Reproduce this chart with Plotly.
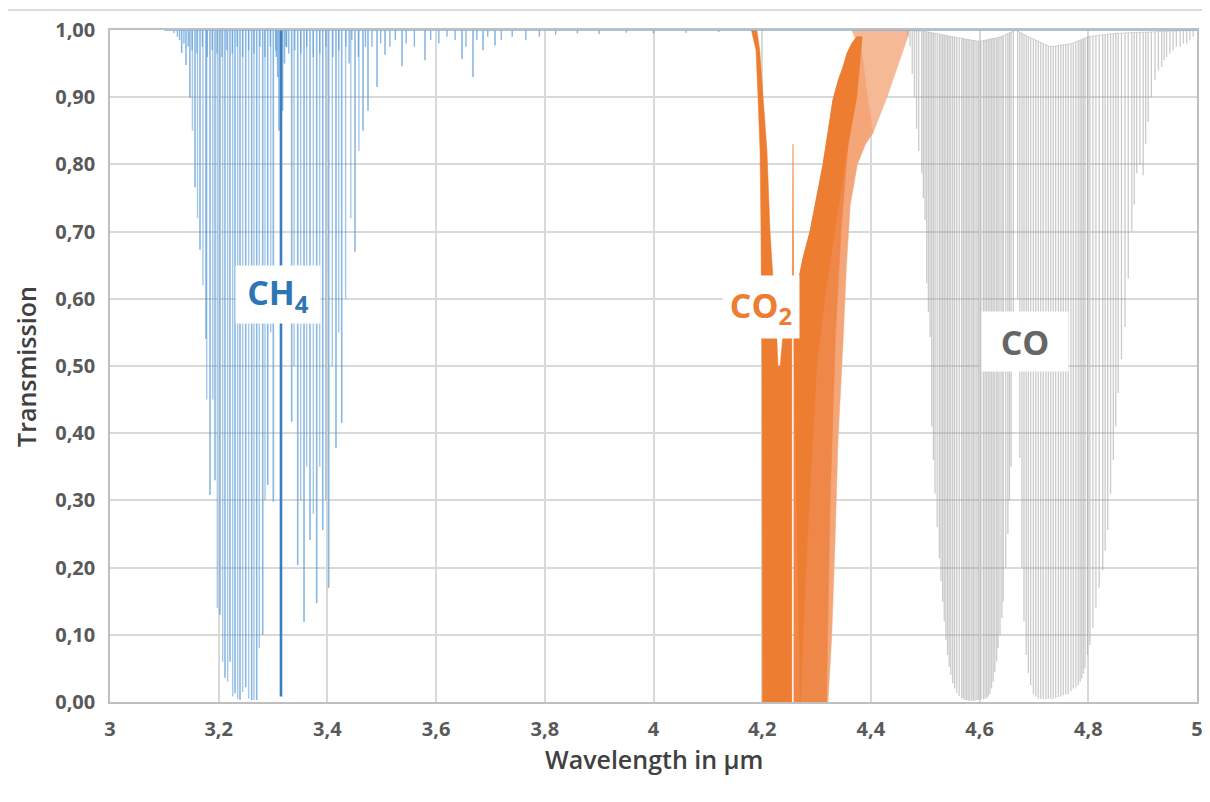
import numpy as np
import plotly.graph_objects as go

# ---------------- axis ticks ----------------
x_tick_vals = [3.0, 3.2, 3.4, 3.6, 3.8, 4.0, 4.2, 4.4, 4.6, 4.8, 5.0]
x_tick_text = ["3", "3,2", "3,4", "3,6", "3,8", "4", "4,2", "4,4", "4,6", "4,8", "5"]
y_tick_vals = [0.0, 0.1, 0.2, 0.3, 0.4, 0.5, 0.6, 0.7, 0.8, 0.9, 1.0]
y_tick_text = ["0,00", "0,10", "0,20", "0,30", "0,40", "0,50", "0,60", "0,70", "0,80", "0,90", "1,00"]

# ---------------- CH4 absorption lines (centre, min transmission) ----------------
ch4_wl = [3.1319, 3.1398, 3.1470, 3.1564, 3.1656, 3.1766, 3.1840, 3.1932, 3.2024, 3.2116,
          3.2208, 3.2300, 3.2392, 3.2497, 3.2607, 3.2699, 3.2810, 3.2902, 3.3005,
          3.3343, 3.3454, 3.3570, 3.3680, 3.3803, 3.3914, 3.4024, 3.4158, 3.4263,
          3.4508, 3.4655, 3.4747, 3.4913, 3.5060, 3.5373, 3.5796, 3.6477, 3.6679,
          3.6863, 3.7084]
ch4_T = [0.966, 0.948, 0.899, 0.766, 0.673, 0.540, 0.308, 0.330, 0.130, 0.036,
         0.060, 0.013, 0.003, 0.022, 0.003, 0.003, 0.100, 0.323, 0.298,
         0.417, 0.204, 0.119, 0.241, 0.147, 0.256, 0.170, 0.378, 0.415,
         0.670, 0.850, 0.880, 0.915, 0.963, 0.946, 0.955, 0.957, 0.930,
         0.970, 0.977]
# companion (weaker member of doublets) lines
ch4_b_wl = [3.1517, 3.1610, 3.1710, 3.1779, 3.1890, 3.1975, 3.2073, 3.2165, 3.2257, 3.2349,
            3.2441, 3.2551, 3.2649, 3.2747, 3.2852, 3.2957, 3.3386, 3.3509, 3.3619, 3.3741,
            3.3858, 3.3969, 3.4090, 3.4208, 3.4335, 3.4430, 3.4580]
ch4_b_T = [0.850, 0.720, 0.620, 0.450, 0.450, 0.140, 0.060, 0.030, 0.008, 0.005,
           0.015, 0.005, 0.003, 0.080, 0.300, 0.550, 0.500, 0.300, 0.350, 0.280,
           0.350, 0.300, 0.500, 0.550, 0.600, 0.720, 0.820]
ch4_weak_wl = [3.118, 3.124, 3.128, 3.136, 3.144, 3.151, 3.160, 3.170, 3.179, 3.188,
               3.197, 3.206, 3.215, 3.225, 3.234, 3.244, 3.255, 3.265, 3.276, 3.285,
               3.295, 3.305, 3.325, 3.329, 3.340, 3.351, 3.362, 3.374, 3.386, 3.397,
               3.410, 3.421, 3.434, 3.440, 3.445, 3.457, 3.470, 3.482, 3.498, 3.515,
               3.525, 3.545, 3.560, 3.590, 3.605, 3.620, 3.635, 3.655, 3.675, 3.695,
               3.720, 3.740, 3.765, 3.790, 3.820, 3.860, 3.900, 3.950, 4.000, 4.060, 4.120]
ch4_weak_T = [0.995, 0.990, 0.985, 0.980, 0.975, 0.970, 0.965, 0.975, 0.960, 0.970,
              0.965, 0.960, 0.970, 0.965, 0.975, 0.960, 0.970, 0.965, 0.975, 0.960,
              0.975, 0.970, 0.975, 0.965, 0.970, 0.965, 0.975, 0.960, 0.965, 0.975,
              0.960, 0.970, 0.975, 0.950, 0.985, 0.960, 0.975, 0.975, 0.980, 0.975,
              0.985, 0.980, 0.975, 0.985, 0.980, 0.990, 0.985, 0.975, 0.985, 0.990,
              0.985, 0.990, 0.985, 0.990, 0.993, 0.995, 0.994, 0.996, 0.995, 0.996, 0.997]
ch4_qside_wl = [3.3060, 3.3085, 3.3110, 3.3175, 3.3210, 3.3240]
ch4_qside_T = [0.960, 0.930, 0.850, 0.880, 0.950, 0.975]
ch4_q_wl = [3.3146]
ch4_q_T = [0.008]

# ---------------- CO absorption lines ----------------
co_wl = [4.468, 4.472, 4.476, 4.480, 4.484, 4.488, 4.4935, 4.4965, 4.4996, 4.5027,
         4.5058, 4.5088, 4.5118, 4.515, 4.518, 4.522, 4.526, 4.529, 4.532, 4.535,
         4.538, 4.541, 4.544, 4.547, 4.5505, 4.554, 4.558, 4.5625, 4.567, 4.570,
         4.573, 4.576, 4.579, 4.582, 4.5855, 4.5885, 4.5915, 4.595, 4.598, 4.6025,
         4.607, 4.610, 4.613, 4.616, 4.619, 4.622, 4.625, 4.628, 4.6315, 4.634,
         4.6375, 4.641, 4.6436, 4.648, 4.652, 4.655, 4.658, 4.662,
         4.670, 4.674, 4.678, 4.6817, 4.6857, 4.6897, 4.694, 4.699, 4.7035, 4.708,
         4.7125, 4.717, 4.722, 4.7265, 4.731, 4.7356, 4.740, 4.745, 4.7495, 4.754,
         4.7585, 4.763, 4.768, 4.7725, 4.777, 4.7816, 4.785, 4.788, 4.791, 4.794,
         4.7985, 4.803, 4.8085, 4.814, 4.820, 4.8265, 4.831, 4.8357, 4.841, 4.846,
         4.8505, 4.855, 4.861, 4.8675, 4.8735, 4.880, 4.8845, 4.889, 4.895, 4.901,
         4.9055, 4.910, 4.916, 4.9227, 4.929, 4.935, 4.9395, 4.944, 4.950, 4.956,
         4.962, 4.969, 4.975, 4.981, 4.987, 4.993]
co_T = [0.990, 0.975, 0.935, 0.900, 0.853, 0.820, 0.787, 0.750, 0.717, 0.623,
        0.580, 0.543, 0.410, 0.360, 0.310, 0.260, 0.214, 0.180, 0.149, 0.120,
        0.092, 0.070, 0.052, 0.040, 0.028, 0.020, 0.013, 0.009, 0.006, 0.004,
        0.003, 0.003, 0.002, 0.002, 0.002, 0.002, 0.002, 0.003, 0.003, 0.004,
        0.004, 0.005, 0.006, 0.008, 0.012, 0.020, 0.030, 0.045, 0.060, 0.080,
        0.100, 0.125, 0.150, 0.200, 0.250, 0.300, 0.350, 0.580,
        0.600, 0.363, 0.200, 0.120, 0.070, 0.043, 0.025, 0.012, 0.008, 0.005,
        0.005, 0.005, 0.004, 0.005, 0.005, 0.005, 0.006, 0.007, 0.008, 0.010,
        0.011, 0.012, 0.016, 0.020, 0.022, 0.025, 0.030, 0.035, 0.042, 0.050,
        0.070, 0.085, 0.110, 0.140, 0.170, 0.196, 0.225, 0.256, 0.310, 0.360,
        0.410, 0.460, 0.510, 0.558, 0.630, 0.700, 0.740, 0.787, 0.800, 0.784,
        0.830, 0.863, 0.900, 0.926, 0.940, 0.945, 0.955, 0.960, 0.965, 0.970,
        0.975, 0.975, 0.980, 0.980, 0.985, 0.990]
# upper envelope of the CO band (where the lines start)
co_top_wl = [4.46, 4.50, 4.55, 4.60, 4.64, 4.666, 4.69, 4.73, 4.77, 4.80, 4.85, 5.00]
co_top_T = [1.000, 0.998, 0.990, 0.983, 0.990, 1.000, 0.990, 0.975, 0.980, 0.990, 0.995, 1.000]

# ---------------- CO2 band outlines (wavelength, transmission) ----------------
co2_r_wl = [4.1800, 4.1886, 4.1923, 4.1960, 4.1978, 4.1996, 4.2005, 4.2545, 4.2545,
            4.2500, 4.2440, 4.2380, 4.2330, 4.2290, 4.2260, 4.2199, 4.2144, 4.2088,
            4.2010, 4.1955, 4.1900]
co2_r_T = [1.00, 0.97, 0.90, 0.82, 0.70, 0.50, 0.00, 0.00, 0.55,
           0.58, 0.60, 0.55, 0.50, 0.50, 0.56, 0.63, 0.70, 0.82,
           0.90, 0.97, 1.00]
co2_spike_wl = [4.2530, 4.2555, 4.2567, 4.2578, 4.2605]
co2_spike_T = [0.55, 0.63, 0.83, 0.63, 0.55]
co2_p_wl = [4.2585, 4.2585, 4.2650, 4.2750, 4.2880, 4.3000, 4.3120, 4.3215, 4.3300,
            4.3400, 4.3490, 4.3560, 4.3650, 4.3744, 4.3800, 4.3920, 4.4040, 4.3900,
            4.3750, 4.3620, 4.3550, 4.3490, 4.3395, 4.3340, 4.3280, 4.3210]
co2_p_T = [0.00, 0.55, 0.62, 0.66, 0.70, 0.75, 0.80, 0.85, 0.895,
           0.925, 0.945, 0.965, 0.980, 0.990, 0.985, 0.915, 0.847, 0.830,
           0.800, 0.740, 0.650, 0.540, 0.390, 0.240, 0.100, 0.000]
co2_mid_wl = [4.2585, 4.2585, 4.2650, 4.2750, 4.2880, 4.3000, 4.3120, 4.3215, 4.3300,
              4.3400, 4.3490, 4.3560, 4.3650, 4.3744, 4.3720, 4.3600, 4.3450, 4.3350,
              4.3250, 4.3180]
co2_mid_T = [0.00, 0.55, 0.62, 0.66, 0.70, 0.75, 0.80, 0.85, 0.895,
             0.925, 0.945, 0.965, 0.980, 0.990, 0.950, 0.850, 0.700, 0.550,
             0.300, 0.000]
co2_dark_wl = [4.2585, 4.2650, 4.2750, 4.2880, 4.3000, 4.3120, 4.3215, 4.3300, 4.3400,
               4.3490, 4.3560, 4.3650, 4.3744, 4.3840, 4.3740, 4.3560, 4.3330, 4.3150,
               4.3000, 4.2900, 4.2800, 4.2700]
co2_dark_T = [0.55, 0.62, 0.66, 0.70, 0.75, 0.80, 0.85, 0.895, 0.925,
              0.945, 0.965, 0.980, 0.990, 0.990, 0.900, 0.820, 0.700, 0.600,
              0.500, 0.350, 0.200, 0.000]
co2_wedge_wl = [4.3650, 4.4700, 4.4680, 4.4535, 4.4296, 4.4040, 4.3920, 4.3800, 4.3720]
co2_wedge_T = [1.000, 1.000, 0.990, 0.955, 0.900, 0.847, 0.915, 0.960, 0.985]

# ---------------- helpers ----------------
def spikes(wl, tmin, top=None):
    xs, ys = [], []
    for i, (w, t) in enumerate(zip(wl, tmin)):
        base = 1.0 if top is None else float(top[i])
        xs += [w, w, None]
        ys += [base, t, None]
    return xs, ys


fig = go.Figure()


def poly(wl, tv, color):
    fig.add_trace(go.Scatter(x=list(wl) + [wl[0]], y=list(tv) + [tv[0]], mode="lines",
                             fill="toself", fillcolor=color, line=dict(width=0.5, color=color),
                             hoverinfo="skip", showlegend=False))


poly(co2_wedge_wl, co2_wedge_T, "#F6B996")
poly(co2_p_wl, co2_p_T, "#F4A679")
poly(co2_mid_wl, co2_mid_T, "#EF8748")
poly(co2_dark_wl, co2_dark_T, "#ED7D31")
poly(co2_r_wl, co2_r_T, "#ED7D31")
poly(co2_spike_wl, co2_spike_T, "#ED7D31")

# CO lines
co_top = np.interp(co_wl, co_top_wl, co_top_T)
xs, ys = spikes(co_wl, co_T, co_top)
fig.add_trace(go.Scatter(x=xs, y=ys, mode="lines", line=dict(color="rgba(160,160,160,0.55)", width=1.3),
                         hoverinfo="skip", showlegend=False))
fig.add_trace(go.Scatter(x=co_top_wl, y=co_top_T, mode="lines", line=dict(color="rgba(170,170,170,0.45)", width=1),
                         hoverinfo="skip", showlegend=False))

# CH4 lines
ch4_col = "rgba(91,155,213,0.72)"
xs, ys = spikes(ch4_weak_wl, ch4_weak_T)
fig.add_trace(go.Scatter(x=xs, y=ys, mode="lines", line=dict(color=ch4_col, width=1.4),
                         hoverinfo="skip", showlegend=False))
xs, ys = spikes(ch4_b_wl, ch4_b_T)
fig.add_trace(go.Scatter(x=xs, y=ys, mode="lines", line=dict(color="rgba(91,155,213,0.55)", width=1.4),
                         hoverinfo="skip", showlegend=False))
xs, ys = spikes(ch4_wl, ch4_T)
fig.add_trace(go.Scatter(x=xs, y=ys, mode="lines", line=dict(color=ch4_col, width=1.6),
                         hoverinfo="skip", showlegend=False))
xs, ys = spikes(ch4_qside_wl, ch4_qside_T)
fig.add_trace(go.Scatter(x=xs, y=ys, mode="lines", line=dict(color=ch4_col, width=1.6),
                         hoverinfo="skip", showlegend=False))
xs, ys = spikes(ch4_q_wl, ch4_q_T)
fig.add_trace(go.Scatter(x=xs, y=ys, mode="lines", line=dict(color="#3A7DC0", width=2.6),
                         hoverinfo="skip", showlegend=False))
fig.add_trace(go.Scatter(x=[3.10, 5.0], y=[1.0, 1.0], mode="lines", line=dict(color="#7FB0DE", width=1.5),
                         hoverinfo="skip", showlegend=False))

label_font = dict(family="Open Sans", size=34, weight="bold")
fig.add_annotation(x=3.309, y=0.6064, xref="x", yref="y", text="CH<sub>4</sub>", showarrow=False,
                   bgcolor="white", width=82, height=55, font=dict(label_font, color="#2E75B6"))
fig.add_annotation(x=4.1978, y=0.5878, xref="x", yref="y", text="CO<sub>2</sub>", showarrow=False,
                   bgcolor="white", width=74, height=60, font=dict(label_font, color="#ED7D31"))
fig.add_annotation(x=4.6835, y=0.5365, xref="x", yref="y", text="CO", showarrow=False,
                   bgcolor="white", width=84, height=57, font=dict(label_font, color="#666666"))

title_font = dict(family="Open Sans", size=25, color="#404040", weight=600)
fig.add_annotation(x=0.5, y=-0.0848, xref="paper", yref="paper", text="Wavelength in µm",
                   showarrow=False, xanchor="center", yanchor="middle", font=title_font)
fig.add_annotation(x=-0.0773, y=0.5, xref="paper", yref="paper", text="Transmission", textangle=-90,
                   showarrow=False, xanchor="center", yanchor="middle", font=title_font)

# top border line of the figure
fig.add_shape(type="line", xref="paper", yref="paper", x0=-0.0938, x1=1.012, y0=1.0298, y1=1.0298,
              line=dict(color="#D0D0D0", width=1.5))

tick_font = dict(family="Open Sans", size=20, color="#595959", weight="bold")
# the page body adds an 8 px offset, so the figure is sized to sit inside the window
fig.update_layout(
    width=1202, height=786,
    margin=dict(l=102, r=13, t=22, b=92, autoexpand=False),
    paper_bgcolor="white", plot_bgcolor="white",
    showlegend=False,
    xaxis=dict(range=[3.0, 5.0], tickvals=x_tick_vals, ticktext=x_tick_text, automargin=False,
               showgrid=True, gridcolor="#D9D9D9", gridwidth=1.5, zeroline=False,
               showline=True, linecolor="#BFBFBF", linewidth=1.5, mirror=True,
               tickfont=tick_font, ticks="", ticklabelstandoff=8, ticklabeloverflow="allow"),
    yaxis=dict(range=[0.0, 1.0], tickvals=y_tick_vals, ticktext=y_tick_text, automargin=False,
               showgrid=True, gridcolor="#D9D9D9", gridwidth=1.5, zeroline=False,
               showline=True, linecolor="#BFBFBF", linewidth=1.5, mirror=True,
               tickfont=tick_font, ticks="", ticklabelstandoff=9, ticklabeloverflow="allow"),
)

fig.write_html("out.html")
